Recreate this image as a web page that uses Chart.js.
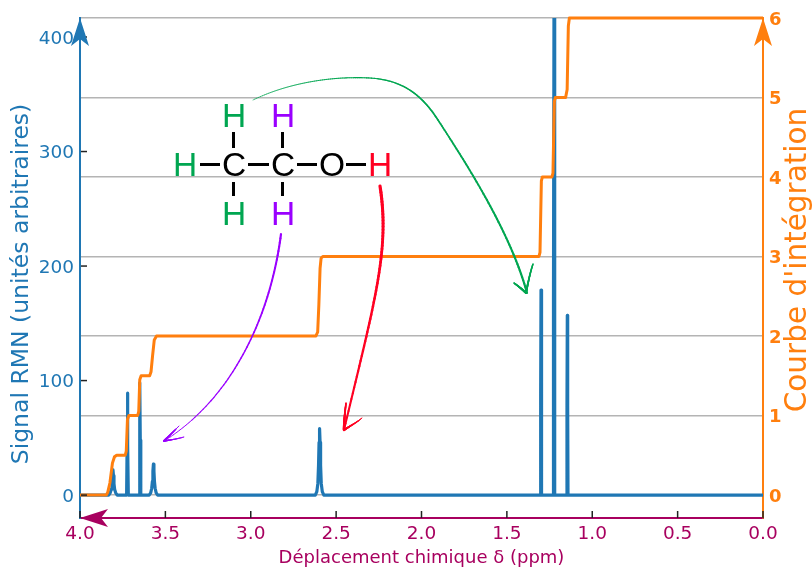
<!DOCTYPE html>
<html>
<head>
<meta charset="utf-8">
<title>Spectre RMN de l'ethanol</title>
<script src="https://cdn.jsdelivr.net/npm/chart.js@4"></script>
<style>
    html, body { margin: 0; padding: 0; background: #fff; }
    canvas { display: block; }
</style>
</head>
<body>
<canvas id="chart" width="812" height="567"></canvas>
<script>
// values
const signalPpm = [
    4.0, 3.832, 3.823, 3.817, 3.813, 3.81, 3.807, 3.804, 3.801, 3.797, 3.791, 3.782,
    3.727, 3.724, 3.722, 3.72, 3.717,
    3.654, 3.651, 3.649, 3.647, 3.644,
    3.595, 3.586, 3.58, 3.576, 3.573, 3.57, 3.567, 3.564, 3.56, 3.554, 3.545,
    2.622, 2.613, 2.607, 2.603, 2.6, 2.597, 2.594, 2.591, 2.587, 2.581, 2.572,
    1.304, 1.302, 1.3, 1.298, 1.296,
    1.229, 1.227, 1.224, 1.221, 1.219,
    1.15, 1.148, 1.146, 1.144, 1.142,
    0.0
];
const signalValue = [
    0, 0, 2, 5, 10, 17, 22, 17, 10, 5, 2, 0,
    0, 44, 89, 44, 0,
    0, 48, 98, 48, 0,
    0, 2, 6, 12, 21, 27, 21, 12, 6, 2, 0,
    0, 3, 10, 26, 46, 58, 46, 26, 10, 3, 0,
    0, 90, 179, 90, 0,
    0, 170, 430, 170, 0,
    0, 78, 157, 78, 0,
    0
];
const integralPpm = [
    4.0, 3.846, 3.838, 3.825, 3.81, 3.798, 3.785, 3.735, 3.729, 3.722, 3.714,
    3.662, 3.656, 3.65, 3.642, 3.592, 3.584, 3.575, 3.565, 3.552,
    2.618, 2.608, 2.601, 2.594, 2.588, 2.578,
    1.312, 1.306, 1.298, 1.292,
    1.236, 1.23, 1.222, 1.216,
    1.156, 1.147, 1.14, 1.134,
    0.0
];
const integralValue = [
    0, 0, 0.03, 0.15, 0.4, 0.48, 0.5, 0.5, 0.55, 0.95, 1,
    1, 1.05, 1.45, 1.5, 1.5, 1.55, 1.75, 1.95, 2,
    2, 2.05, 2.4, 2.85, 2.98, 3,
    3, 3.05, 3.95, 4,
    4, 4.05, 4.95, 5,
    5, 5.1, 5.9, 6,
    6
];

const blue = '#1f77b4';
const orange = '#ff7f0e';
const magenta = '#a8005f';
const green = '#00a651';
const purple = '#9a00ff';
const red = '#ff0022';
const axisFont = 'DejaVu Sans';

function toPoints(xs, ys) {
    return xs.map((x, i) => ({x: x, y: ys[i]}));
}

function drawLine(ctx, x1, y1, x2, y2) {
    ctx.beginPath();
    ctx.moveTo(x1, y1);
    ctx.lineTo(x2, y2);
    ctx.stroke();
}

// filled arrow head at the end of an axis, dx/dy is the direction of the tip
function axisArrow(ctx, x, y, dx, dy, color) {
    const nx = -dy, ny = dx;
    ctx.fillStyle = color;
    ctx.beginPath();
    ctx.moveTo(x, y);
    ctx.lineTo(x - dx * 28 + nx * 9, y - dy * 28 + ny * 9);
    ctx.lineTo(x - dx * 21, y - dy * 21);
    ctx.lineTo(x - dx * 28 - nx * 9, y - dy * 28 - ny * 9);
    ctx.closePath();
    ctx.fill();
}

// hand drawn arrows: pen width changes along the curve
function penCurve(ctx, pts, w0, w1, color) {
    ctx.strokeStyle = color;
    ctx.lineCap = 'round';
    const steps = 60;
    for (let s = 0; s + 3 < pts.length; s += 3) {
        const seg = s / 3, nseg = (pts.length - 1) / 3;
        let prev = pts[s];
        for (let i = 1; i <= steps; i++) {
            const t = i / steps, u = 1 - t;
            const px = u*u*u*pts[s][0] + 3*u*u*t*pts[s+1][0] + 3*u*t*t*pts[s+2][0] + t*t*t*pts[s+3][0];
            const py = u*u*u*pts[s][1] + 3*u*u*t*pts[s+1][1] + 3*u*t*t*pts[s+2][1] + t*t*t*pts[s+3][1];
            ctx.lineWidth = w0 + (w1 - w0) * (seg + t) / nseg;
            drawLine(ctx, prev[0], prev[1], px, py);
            prev = [px, py];
        }
    }
}

const overlayPlugin = {
    id: 'overlay',
    afterDatasetsDraw(chart) {
        const ctx = chart.ctx;
        const area = chart.chartArea;
        const sx = chart.scales.x, sy = chart.scales.y;
        ctx.save();

        // ticks point inside the plot
        ctx.strokeStyle = '#222';
        ctx.lineWidth = 1.5;
        sy.ticks.forEach((t, i) => {
            const py = sy.getPixelForTick(i);
            drawLine(ctx, area.left + 1, py, area.left + 7, py);
        });
        sx.ticks.forEach((t, i) => {
            const px = sx.getPixelForTick(i);
            drawLine(ctx, px, area.bottom - 7, px, area.bottom);
        });

        axisArrow(ctx, area.left, area.top, 0, -1, blue);
        axisArrow(ctx, area.right, area.top, 0, -1, orange);
        axisArrow(ctx, area.left, area.bottom, -1, 0, magenta);

        // axis titles sit off centre in the original
        ctx.textAlign = 'center';
        ctx.textBaseline = 'middle';
        ctx.save();
        ctx.translate(22, 284);
        ctx.rotate(-Math.PI / 2);
        ctx.fillStyle = blue;
        ctx.font = '23.5px "' + axisFont + '"';
        ctx.fillText('Signal RMN (unités arbitraires)', 0, 0);
        ctx.restore();
        ctx.save();
        ctx.translate(798, 260);
        ctx.rotate(-Math.PI / 2);
        ctx.fillStyle = orange;
        ctx.font = '29.5px "' + axisFont + '"';
        ctx.fillText("Courbe d'intégration", 0, 0);
        ctx.restore();

        // molecule
        ctx.strokeStyle = '#000';
        ctx.lineWidth = 3;
        ctx.lineCap = 'butt';
        [[200, 220], [248, 269], [297, 317], [346, 366]].forEach(b => drawLine(ctx, b[0], 164.5, b[1], 164.5));
        [233.5, 282.5].forEach(x => {
            drawLine(ctx, x, 132, x, 148);
            drawLine(ctx, x, 182, x, 196);
        });
        ctx.font = '33.5px "Liberation Sans"';
        const atoms = [
            ['H', 185, 165, green], ['C', 234, 165, '#000'], ['C', 283, 165, '#000'],
            ['O', 332, 165, '#000'], ['H', 380, 165, red],
            ['H', 234, 116, green], ['H', 283, 116, purple],
            ['H', 234, 213.5, green], ['H', 283, 213.5, purple]
        ];
        ctx.textBaseline = 'alphabetic';
        atoms.forEach(a => {
            ctx.fillStyle = a[3];
            ctx.fillText(a[0], a[1], a[2] + 11);
        });

        // green arrow
        penCurve(ctx, [[253, 100], [290, 82], [335, 76], [370, 78], [400, 80], [420, 92], [438, 120], [462, 157], [510, 230], [527, 293]], 0.6, 2.2, green);
        penCurve(ctx, [[526, 293], [522, 289], [518, 286], [514, 283]], 2, 1.4, green);
        penCurve(ctx, [[526, 293], [528, 283], [530, 273], [533, 264]], 2, 1.4, green);
        // purple arrow
        penCurve(ctx, [[281, 234], [270, 320], [230, 400], [164, 441]], 2.2, 0.8, purple);
        penCurve(ctx, [[164, 441], [169, 436], [174, 431], [179, 426]], 2, 0.8, purple);
        penCurve(ctx, [[164, 441], [170, 440], [177, 439], [184, 437]], 1.6, 0.6, purple);
        // red arrow
        penCurve(ctx, [[380, 186], [390, 250], [375, 300], [344, 430]], 3.2, 2, red);
        penCurve(ctx, [[344, 430], [344, 421], [345, 412], [346, 403]], 2.5, 1.5, red);
        penCurve(ctx, [[344, 430], [350, 426], [356, 423], [362, 418]], 2, 0.8, red);

        ctx.restore();
    }
};

new Chart(document.getElementById('chart'), {
    type: 'line',
    data: {
        datasets: [
            {
                label: 'Signal RMN',
                data: toPoints(signalPpm, signalValue),
                yAxisID: 'y',
                borderColor: blue,
                borderWidth: 3.2,
                borderJoinStyle: 'round',
                pointRadius: 0,
                tension: 0,
                order: 2
            },
            {
                label: "Courbe d'intégration",
                data: toPoints(integralPpm, integralValue),
                yAxisID: 'y2',
                borderColor: orange,
                borderWidth: 3,
                borderJoinStyle: 'round',
                pointRadius: 0,
                tension: 0,
                clip: false,
                order: 1
            }
        ]
    },
    options: {
        responsive: false,
        animation: false,
        layout: {padding: {top: 18, left: 0, right: 0, bottom: 0}},
        plugins: {legend: {display: false}, tooltip: {enabled: false}},
        scales: {
            x: {
                type: 'linear',
                reverse: true,
                min: 0,
                max: 4,
                afterFit(scale) { scale.height = 49; },
                grid: {display: false, drawTicks: false, tickLength: 0},
                border: {color: magenta, width: 2},
                title: {display: true, text: 'Déplacement chimique δ (ppm)', color: magenta,
                    font: {family: axisFont, size: 18, lineHeight: 1}, padding: 0},
                ticks: {
                    stepSize: 0.5,
                    color: magenta,
                    padding: 5,
                    maxRotation: 0,
                    autoSkip: false,
                    font: {family: axisFont, size: 18.5},
                    callback: v => v.toFixed(1)
                }
            },
            y: {
                position: 'left',
                min: -20,
                max: 416.6,
                afterFit(scale) { scale.width = 80; },
                grid: {display: false, drawTicks: false, tickLength: 0},
                border: {color: blue, width: 2},
                ticks: {
                    stepSize: 100,
                    includeBounds: false,
                    color: blue,
                    padding: 6,
                    labelOffset: 2,
                    font: {family: axisFont, size: 18.5}
                }
            },
            y2: {
                position: 'right',
                min: -0.29,
                max: 6,
                afterFit(scale) { scale.width = 49; },
                grid: {color: '#b4b4b4', lineWidth: 1.6, drawTicks: false, tickLength: 0},
                border: {color: orange, width: 2},
                ticks: {
                    stepSize: 1,
                    includeBounds: false,
                    color: orange,
                    padding: 6,
                    labelOffset: 2,
                    font: {family: axisFont, size: 18, weight: 'bold'}
                }
            }
        }
    },
    plugins: [overlayPlugin]
});
</script>
</body>
</html>
